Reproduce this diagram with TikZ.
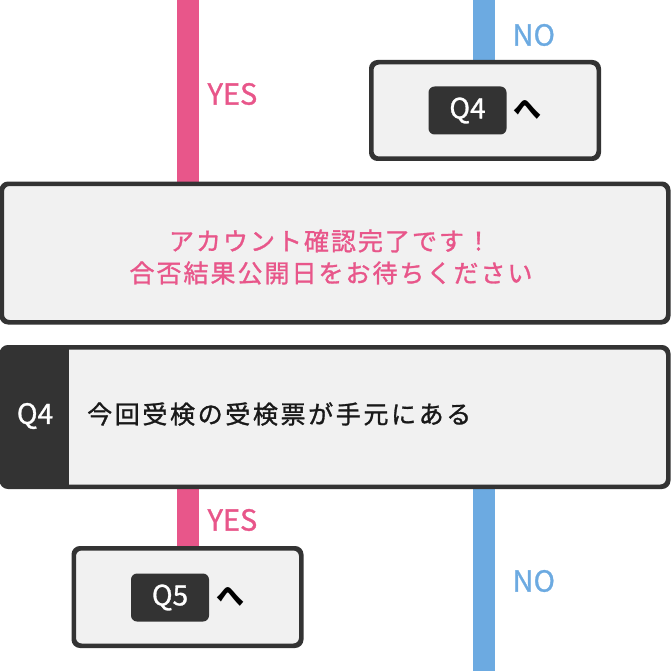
\documentclass[tikz,border=0pt]{standalone}
\usepackage{fontspec}
\setmainfont{Noto Sans CJK JP}
\newfontfamily\jp[LetterSpace=8, FakeBold=1.2]{Noto Sans CJK JP}
\newfontfamily\jpq[LetterSpace=10.5, FakeBold=1.2]{Noto Sans CJK JP}
\newfontfamily\lat[FakeBold=1]{Noto Sans CJK JP}
\definecolor{pinkc}{HTML}{E8568A}
\definecolor{bluec}{HTML}{6CAAE1}
\definecolor{darkc}{HTML}{333333}
\definecolor{boxc}{HTML}{F1F1F1}
\tikzset{
  box/.style={draw=darkc, line width=3pt, fill=boxc, rounded corners=7pt, inner sep=0pt},
  badge/.style={fill=darkc, rounded corners=6pt, text=white, font=\fontsize{28}{30}\selectfont\lat, inner sep=0pt, minimum width=78pt, minimum height=48pt},
  pinkbar/.style={pinkc, line width=22pt},
  bluebar/.style={bluec, line width=22pt},
  yes/.style={text=pinkc, font=\fontsize{29}{30}\selectfont\lat, anchor=west},
  no/.style={text=bluec, font=\fontsize{29}{30}\selectfont\lat, anchor=west},
  he/.style={font=\fontsize{28}{28}\selectfont\bfseries, text=black},
}
\begin{document}
\begin{tikzpicture}[x=1pt,y=-1pt]
\useasboundingbox (0,0) rectangle (670,671);
% coordinates for bar ends
\coordinate (ptop) at (188,0);
\coordinate (btop) at (484,0);
\coordinate (bbot) at (484,671);
% boxes
\node[box, minimum width=226pt, minimum height=95pt] (goq4) at (485,110.5) {};
\node[box, minimum width=665pt, minimum height=137pt] (done) at (335,253) {};
\node[box, minimum width=665pt, minimum height=138pt] (q4) at (335,417) {};
\node[box, minimum width=226pt, minimum height=96pt] (goq5) at (187.5,597) {};
% bars (connectors)
\draw[bluebar] (btop) -- (goq4.north -| btop);
\draw[pinkbar] (ptop) -- (done.north -| ptop);
\draw[pinkbar] (q4.south -| ptop) -- (goq5.north -| ptop);
\draw[bluebar] (q4.south -| btop) -- (bbot);
% redraw borders over bars
\draw[draw=darkc, line width=3pt, rounded corners=7pt] (goq4.south west) rectangle (goq4.north east);
\draw[draw=darkc, line width=3pt, rounded corners=7pt] (done.south west) rectangle (done.north east);
\draw[draw=darkc, line width=3pt, rounded corners=7pt] (goq5.south west) rectangle (goq5.north east);
% q4 dark left part
\fill[darkc, rounded corners=7pt] (q4.north west) -- (68,348.5) -- (68,485.5) -- (q4.south west) -- cycle;
\fill[darkc] (40,348.5) rectangle (69,485.5);
\draw[draw=darkc, line width=3pt, rounded corners=7pt] (q4.south west) rectangle (q4.north east);
% texts
\node[no] (no1) at (509,35) {NO};
\node[yes] (yes1) at (204,94) {YES};
\node[badge] (b4) at (467.5,110.5) {Q4};
\node[he] (he1) at (527,110) {へ};
\node[text=pinkc, font=\fontsize{25}{26}\selectfont\jp] (t1) at (330,241) {アカウント確認完了です！};
\node[text=pinkc, font=\fontsize{25}{26}\selectfont\jp] (t2) at (331,273) {合否結果公開日をお待ちください};
\node[text=white, font=\fontsize{28}{30}\selectfont\lat] (q4l) at (35,416) {Q4};
\node[anchor=west, text=black!90, font=\fontsize{25}{26}\selectfont\jpq, inner sep=0pt] (q4t) at (87,414) {今回受検の受検票が手元にある};
\node[yes] (yes2) at (204,520) {YES};
\node[no] (no2) at (509,581) {NO};
\node[badge] (b5) at (170,597.5) {Q5};
\node[he] (he2) at (230,597) {へ};
\end{tikzpicture}
\end{document}
